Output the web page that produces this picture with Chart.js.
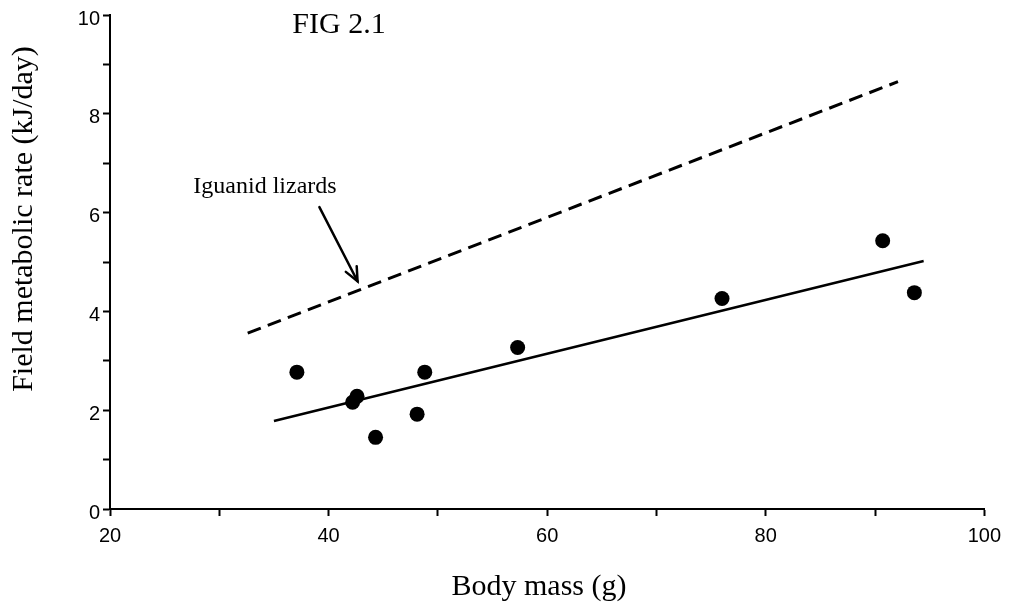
<!DOCTYPE html>
<html>
<head>
<meta charset="utf-8">
<script src="https://cdn.jsdelivr.net/npm/chart.js@4.4.1/dist/chart.umd.min.js"></script>
<style>
  html, body { margin: 0; padding: 0; background: #ffffff; }
  #wrap { width: 1009px; height: 607px; }
</style>
</head>
<body>
<div id="wrap"><canvas id="c" width="1009" height="607"></canvas></div>
<script>
// ---- data ----
const bodyMass = [37.1, 42.2, 42.6, 44.3, 48.1, 48.8, 57.3, 76.0, 90.7, 93.6];
const fieldRate = [2.77, 2.16, 2.28, 1.45, 1.92, 2.77, 3.27, 4.26, 5.43, 4.38];
const fitMass = [35.0, 94.45];
const fitRate = [1.78, 5.02];
const iguanidMass = [32.6, 92.1];
const iguanidRate = [3.56, 8.65];
const arrowMass = [39.16, 42.65];
const arrowRate = [6.11, 4.61];
const xLabelValues = [20, 40, 60, 80, 100];
const yLabelValues = [0, 2, 4, 6, 8, 10];
const figTitle = "FIG 2.1";
const xTitle = "Body mass (g)";
const yTitle = "Field metabolic rate (kJ/day)";
const noteText = "Iguanid lizards";

const toPts = (xs, ys) => xs.map((x, i) => ({ x: x, y: ys[i] }));

const annotate = {
  id: 'annotate',
  afterDraw(chart) {
    const ctx = chart.ctx;
    const xs = chart.scales.x, ys = chart.scales.y;
    ctx.save();
    ctx.fillStyle = '#000';
    ctx.strokeStyle = '#000';
    // arrow
    const x0 = xs.getPixelForValue(arrowMass[0]), y0 = ys.getPixelForValue(arrowRate[0]);
    const x1 = xs.getPixelForValue(arrowMass[1]), y1 = ys.getPixelForValue(arrowRate[1]);
    ctx.lineWidth = 2.5;
    ctx.lineCap = 'round';
    ctx.beginPath(); ctx.moveTo(x0, y0); ctx.lineTo(x1, y1); ctx.stroke();
    const ang = Math.atan2(y1 - y0, x1 - x0);
    const hl = 15, ha = 0.42;
    ctx.beginPath();
    ctx.moveTo(x1 - hl * Math.cos(ang - ha), y1 - hl * Math.sin(ang - ha));
    ctx.lineTo(x1, y1);
    ctx.lineTo(x1 - hl * Math.cos(ang + ha), y1 - hl * Math.sin(ang + ha));
    ctx.stroke();
    // texts
    ctx.textAlign = 'center';
    ctx.textBaseline = 'alphabetic';
    ctx.font = '30px "Liberation Serif", "Times New Roman", serif';
    ctx.fillText(figTitle, 339, 33);
    ctx.fillText(xTitle, 539, 595);
    ctx.font = '24px "Liberation Serif", "Times New Roman", serif';
    ctx.fillText(noteText, 265, 193);
    ctx.save();
    ctx.translate(32, 219);
    ctx.rotate(-Math.PI / 2);
    ctx.font = '30px "Liberation Serif", "Times New Roman", serif';
    ctx.fillText(yTitle, 0, 0);
    ctx.restore();
    ctx.restore();
  }
};

new Chart(document.getElementById('c'), {
  type: 'scatter',
  data: {
    datasets: [
      {
        label: 'Iguanid lizards',
        data: toPts(iguanidMass, iguanidRate),
        showLine: true,
        borderColor: '#000',
        borderWidth: 3,
        borderDash: [14, 7.5],
        pointRadius: 0,
        fill: false
      },
      {
        label: 'Regression',
        data: toPts(fitMass, fitRate),
        showLine: true,
        borderColor: '#000',
        borderWidth: 2.5,
        pointRadius: 0,
        fill: false
      },
      {
        label: 'Observed',
        data: toPts(bodyMass, fieldRate),
        showLine: false,
        pointRadius: 7.5,
        pointBackgroundColor: '#000',
        pointBorderWidth: 0,
        backgroundColor: '#000'
      }
    ]
  },
  options: {
    responsive: false,
    animation: false,
    events: [],
    layout: { padding: { left: 0, top: 14, right: 22, bottom: 0 } },
    plugins: {
      legend: { display: false },
      tooltip: { enabled: false },
      title: { display: false }
    },
    scales: {
      x: {
        type: 'linear',
        min: 20, max: 100,
        afterFit(s) { s.height = 98; },
        border: { display: true, color: '#000', width: 2 },
        grid: { drawOnChartArea: false, drawTicks: true, tickLength: 7, tickColor: '#000', tickWidth: 2 },
        ticks: {
          stepSize: 10,
          color: '#000',
          padding: 8,
          maxRotation: 0,
          autoSkip: false,
          font: { family: '"Liberation Sans", Arial, sans-serif', size: 20 },
          callback: (v) => xLabelValues.includes(v) ? String(v) : ''
        }
      },
      y: {
        type: 'linear',
        min: 0, max: 10,
        afterFit(s) { s.width = 110; },
        border: { display: true, color: '#000', width: 2 },
        grid: { drawOnChartArea: false, drawTicks: true, tickLength: 7, tickColor: '#000', tickWidth: 2 },
        ticks: {
          stepSize: 1,
          color: '#000',
          padding: 3,
          labelOffset: 4,
          autoSkip: false,
          font: { family: '"Liberation Sans", Arial, sans-serif', size: 20 },
          callback: (v) => yLabelValues.includes(v) ? String(v) : ''
        }
      }
    }
  },
  plugins: [annotate]
});
</script>
</body>
</html>
